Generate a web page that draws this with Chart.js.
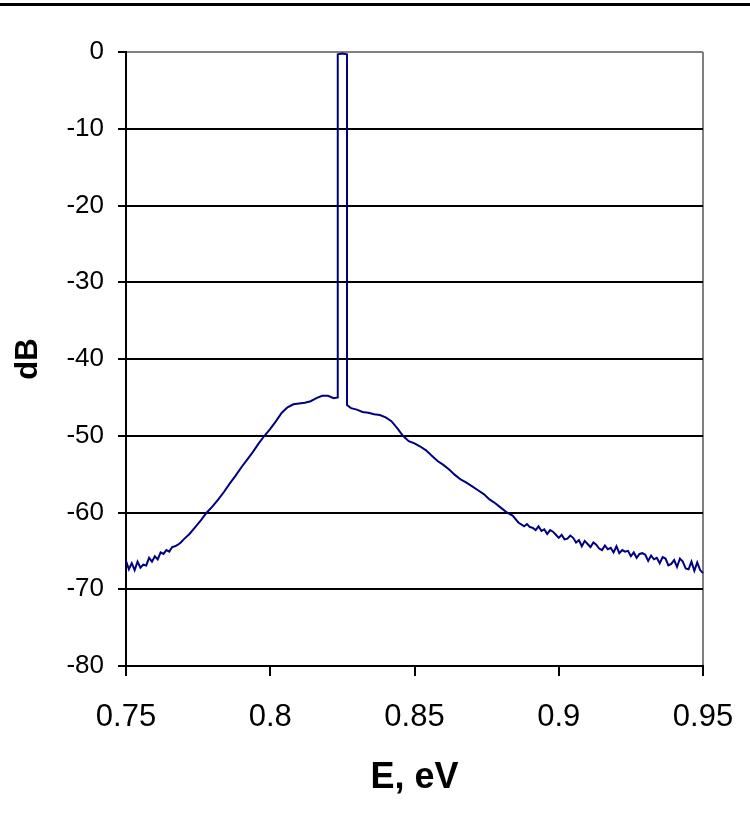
<!DOCTYPE html>
<html>
<head>
<meta charset="utf-8">
<script src="https://cdn.jsdelivr.net/npm/chart.js@4/dist/chart.umd.min.js"></script>
<style>
  html, body { margin: 0; padding: 0; background: #ffffff; }
  #wrap { position: relative; width: 750px; height: 828px; }
  #topline { position: absolute; left: 0; top: 3px; width: 750px; height: 3px; background: #000; }
  canvas { position: absolute; left: 0; top: 0; }
</style>
</head>
<body>
<div id="wrap">
  <canvas id="c" width="750" height="828"></canvas>
  <div id="topline"></div>
</div>
<script>
// Photon energy (eV)
const energy = [
  0.750, 0.751, 0.752, 0.753, 0.754, 0.755, 0.756, 0.757, 0.758, 0.759,
  0.760, 0.761, 0.762, 0.763, 0.764, 0.765, 0.766, 0.767, 0.768, 0.769,
  0.770, 0.772, 0.774, 0.776, 0.778, 0.780, 0.782, 0.784, 0.786, 0.788,
  0.790, 0.792, 0.794, 0.796, 0.798, 0.800, 0.802, 0.804, 0.806, 0.808,
  0.810, 0.812, 0.814, 0.816, 0.818, 0.820, 0.822, 0.8234, 0.8234, 0.8250,
  0.8266, 0.8266, 0.828, 0.830, 0.832, 0.834, 0.836, 0.838, 0.840, 0.842,
  0.844, 0.846, 0.848, 0.850, 0.852, 0.854, 0.856, 0.858, 0.860, 0.862,
  0.864, 0.866, 0.868, 0.870, 0.872, 0.874, 0.876, 0.878, 0.880, 0.882,
  0.884, 0.886, 0.888, 0.889, 0.890, 0.891, 0.892, 0.893, 0.894, 0.895,
  0.896, 0.897, 0.898, 0.899, 0.900, 0.901, 0.902, 0.903, 0.904, 0.905,
  0.906, 0.907, 0.908, 0.909, 0.910, 0.911, 0.912, 0.913, 0.914, 0.915,
  0.916, 0.917, 0.918, 0.919, 0.920, 0.921, 0.922, 0.923, 0.924, 0.925,
  0.926, 0.927, 0.928, 0.929, 0.930, 0.931, 0.932, 0.933, 0.934, 0.935,
  0.936, 0.937, 0.938, 0.939, 0.940, 0.941, 0.942, 0.943, 0.944, 0.945,
  0.946, 0.947, 0.948, 0.949, 0.950
];
// Level (dB)
const level = [
  -66.3, -67.4, -66.6, -67.5, -66.4, -67.2, -66.8, -66.9, -65.9, -66.4,
  -65.7, -66.1, -65.2, -65.4, -64.9, -65.1, -64.5, -64.4, -64.2, -63.9,
  -63.5, -62.8, -61.9, -61.0, -60.0, -59.2, -58.3, -57.3, -56.2, -55.2,
  -54.1, -53.1, -52.1, -51.0, -50.0, -49.1, -48.1, -47.0, -46.3, -45.9,
  -45.8, -45.7, -45.5, -45.1, -44.8, -44.8, -45.1, -45.0, -0.3, -0.2,
  -0.3, -46.0, -46.4, -46.6, -46.9, -47.0, -47.2, -47.3, -47.6, -48.1,
  -49.0, -50.0, -50.7, -51.0, -51.4, -51.9, -52.6, -53.3, -53.8, -54.4,
  -55.1, -55.7, -56.1, -56.6, -57.1, -57.6, -58.3, -58.8, -59.4, -60.0,
  -60.4, -61.3, -61.8, -61.5, -61.9, -62.0, -62.3, -61.8, -62.4, -62.2,
  -62.8, -62.3, -62.5, -62.9, -63.3, -62.9, -63.5, -63.4, -63.0, -63.3,
  -63.9, -63.6, -64.4, -63.7, -64.1, -64.5, -63.9, -64.2, -64.7, -64.9,
  -64.3, -64.8, -64.6, -65.2, -64.4, -65.3, -64.9, -65.1, -65.0, -65.7,
  -65.2, -65.9, -65.4, -65.3, -65.5, -66.3, -65.6, -66.1, -65.9, -66.6,
  -65.8, -66.0, -66.9, -66.7, -66.2, -67.1, -66.0, -66.4, -67.3, -67.4,
  -66.4, -67.6, -66.5, -67.5, -67.9
];
const xTickLabels = ['0.75', '0.8', '0.85', '0.9', '0.95'];
const yTickLabels = ['-80', '-70', '-60', '-50', '-40', '-30', '-20', '-10', '0'];

const points = energy.map((e, i) => ({ x: e, y: level[i] }));

new Chart(document.getElementById('c'), {
  type: 'scatter',
  data: {
    datasets: [{
      data: points,
      showLine: true,
      borderColor: '#000080',
      borderWidth: 2,
      pointRadius: 0,
      tension: 0,
      clip: false
    }]
  },
  options: {
    responsive: false,
    animation: false,
    events: [],
    layout: { padding: { top: 52, right: 47, left: 0, bottom: 0 } },
    plugins: { legend: { display: false }, tooltip: { enabled: false } },
    scales: {
      x: {
        type: 'linear',
        min: 0.75, max: 0.95,
        afterBuildTicks: s => { s.ticks = xTickLabels.map(t => ({ value: parseFloat(t) })); },
        afterFit: s => { s.height = 162; s.paddingLeft = 0; s.paddingRight = 0; },
        ticks: {
          autoSkip: false, maxRotation: 0,
          padding: 23,
          color: '#000',
          font: { family: 'Liberation Sans, Arial, sans-serif', size: 31 },
          callback: (v, i) => xTickLabels[i]
        },
        grid: {
          drawOnChartArea: true,
          color: ctx => (ctx.index === xTickLabels.length - 1 ? '#808080' : 'rgba(0,0,0,0)'),
          lineWidth: 2,
          drawTicks: true,
          tickLength: 10,
          tickColor: '#000',
          tickWidth: 2
        },
        border: { display: true, color: '#000', width: 2 },
        title: {
          display: true,
          text: 'E, eV',
          color: '#000',
          font: { family: 'Liberation Sans, Arial, sans-serif', size: 36, weight: 'bold' },
          padding: { top: 0, bottom: 28 }
        }
      },
      y: {
        type: 'linear',
        min: -80, max: 0,
        afterBuildTicks: s => { s.ticks = yTickLabels.map(t => ({ value: parseFloat(t) })); },
        afterFit: s => { s.width = 126; s.paddingTop = 0; s.paddingBottom = 0; },
        ticks: {
          padding: 14,
          color: '#000',
          font: { family: 'Liberation Sans, Arial, sans-serif', size: 26 },
          callback: (v, i) => yTickLabels[i]
        },
        grid: {
          color: ctx => (ctx.tick && ctx.tick.value === 0 ? '#808080' : '#000'),
          lineWidth: 2,
          drawTicks: true,
          tickLength: 8,
          tickColor: '#000',
          tickWidth: 2
        },
        border: { display: true, color: '#000', width: 2 },
        title: {
          display: true,
          text: 'dB',
          color: '#000',
          font: { family: 'Liberation Sans, Arial, sans-serif', size: 31, weight: 'bold' },
          padding: { top: 10, bottom: 0 }
        }
      }
    }
  }
});
</script>
</body>
</html>
